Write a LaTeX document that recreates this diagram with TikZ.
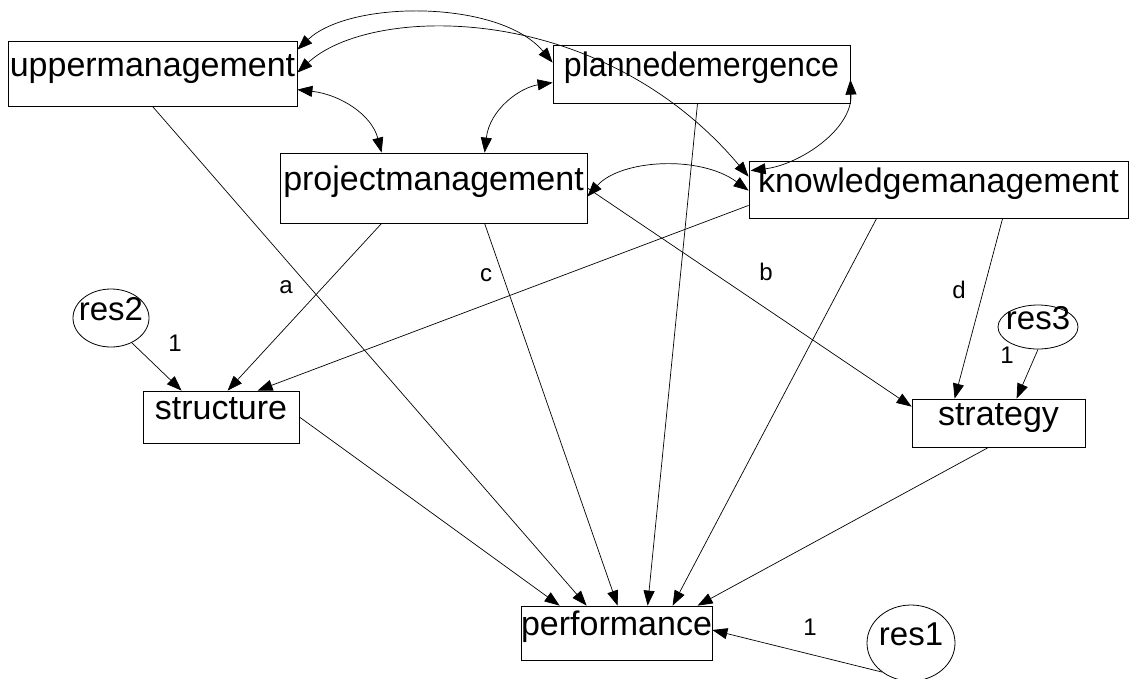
\documentclass[tikz,border=0pt]{standalone}
\usepackage{fontspec}
\setmainfont{Liberation Sans}
\usetikzlibrary{arrows.meta,calc,shapes.geometric}
\begin{document}
\begin{tikzpicture}[x=1pt,y=-1pt,
  var/.style={draw, line width=0.8pt, inner sep=0pt,
    font=\fontsize{34}{40}\selectfont, text height=0.75em, text depth=0.2em},
  resid/.style={draw, ellipse, line width=0.8pt, inner sep=0pt,
    font=\fontsize{33}{40}\selectfont, text height=0.72em, text depth=0.3em},
  coef/.style={inner sep=0pt, font=\fontsize{24}{28}\selectfont},
  tip/.tip={Triangle[length=15pt,width=11pt]},
  reg/.style={draw, line width=0.7pt, -tip},
  cov/.style={draw, line width=0.7pt, tip-tip}]
\path[fill=white] (0,0) rectangle (1132,678);
\useasboundingbox (0,0) rectangle (1132,678);

% observed variables
\node[var, minimum width=289, minimum height=65] (upper) at (152.5,73.5) {uppermanagement};
\node[var, minimum width=297, minimum height=58] (planned) at (701.5,74) {\scalebox{0.945}[1]{plannedemergence}};
\node[var, minimum width=307, minimum height=70] (project) at (433.5,188) {projectmanagement};
\node[var, minimum width=379, minimum height=57] (knowledge) at (938.5,189.5) {knowledgemanagement};
\node[var, minimum width=156, minimum height=52] (structure) at (221,417) {structure};
\node[var, minimum width=173, minimum height=48] (strategy) at (998.5,423) {strategy};
\node[var, minimum width=191, minimum height=54] (performance) at (616.5,633) {performance};

% residuals
\node[resid, minimum width=76, minimum height=58] (res2) at (111,318) {\makebox[0pt]{res2}};
\node[resid, minimum width=80, minimum height=44] (res3) at (1038,327) {\makebox[0pt]{res3}};
\node[resid, minimum width=88, minimum height=76] (res1) at (911,643) {\makebox[0pt]{res1}};

% paths into performance
\draw[reg] (structure.east) -- ($(performance.north west)+(39,0)$);
\draw[reg] (upper.south) -- ($(performance.north west)+(66,0)$);
\draw[reg] ($(project.south west)+(205,0)$) -- ($(performance.north west)+(97,0)$);
\draw[reg] ($(planned.south)+(-4,0)$) -- ($(performance.north west)+(127,0)$);
\draw[reg] ($(knowledge.south west)+(128,0)$) -- ($(performance.north west)+(152,0)$);
\draw[reg] ($(strategy.south)+(-10,0)$) -- ($(performance.north west)+(177,0)$);
\draw[reg] (res1.225) -- ($(performance.east)+(0,-3)$);

% paths into structure
\draw[reg] (res2.-50) -- ($(structure.north west)+(39,0)$);
\draw[reg] ($(project.south west)+(102,0)$) -- ($(structure.north west)+(85,0)$);
\draw[reg] ($(knowledge.south west)+(0,-13)$) -- ($(structure.north west)+(115,0)$);

% paths into strategy
\draw[reg] (project.east) -- ($(strategy.north west)+(0,8)$);
\draw[reg] ($(knowledge.south west)+(254,0)$) -- ($(strategy.north west)+(43,0)$);
\draw[reg] (res3.south) -- ($(strategy.north west)+(105,0)$);

% covariances among the exogenous variables
\draw[cov] ($(upper.north east)+(0,9)$) .. controls +(53,-50) and +(-53,-63) .. ($(planned.north west)+(0,18)$);
\draw[cov] ($(upper.north east)+(0,32)$) .. controls +(73,-68) and +(-149,-177) .. ($(knowledge.north west)+(0,16)$);
\draw[cov] ($(planned.north east)+(0,35)$) .. controls +(2,50) and +(49,-6) .. ($(knowledge.north west)+(2,10)$);
\draw[cov] ($(upper.north east)+(0,49)$) .. controls +(43,5) and +(-10,-38) .. ($(project.north west)+(102,0)$);
\draw[cov] ($(planned.north west)+(0,38)$) .. controls +(-33,5) and +(5,-43) .. ($(project.north west)+(205,0)$);
\draw[cov] ($(project.north east)+(0,44)$) .. controls +(33,-37) and +(-49,-36) .. ($(knowledge.north west)+(0,30)$);

% coefficient labels
\node[coef] (la) at (286,287) {a};
\node[coef] (lb) at (766,272) {b};
\node[coef] (lc) at (486,275) {c};
\node[coef] (ld) at (959,290) {d};
\node[coef] (l2) at (175,343) {1};
\node[coef] (l3) at (1007,355) {1};
\node[coef] (l1) at (810,627) {1};
\end{tikzpicture}
\end{document}
